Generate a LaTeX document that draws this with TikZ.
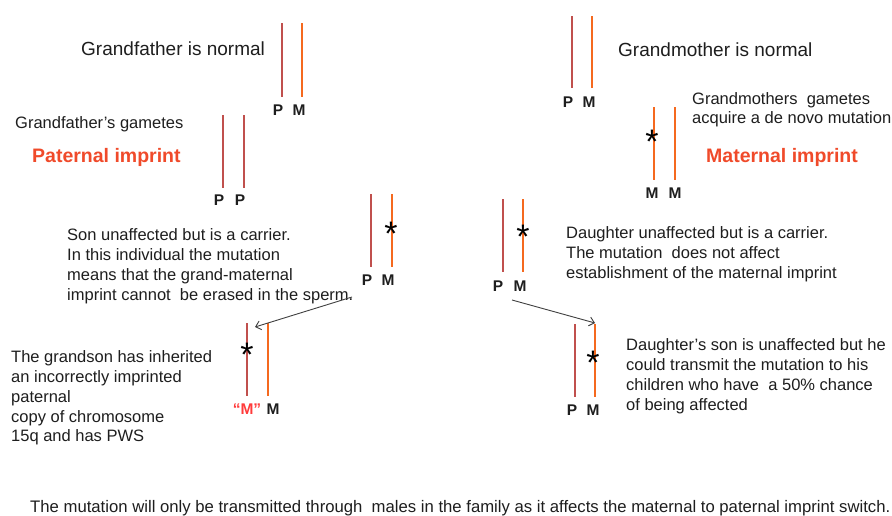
\documentclass[tikz,border=0pt]{standalone}
\usepackage{fontspec}
\setmainfont{Liberation Sans}
\usetikzlibrary{arrows.meta}
\definecolor{patline}{HTML}{C0504D}
\definecolor{matline}{HTML}{F5691F}
\definecolor{imprintred}{HTML}{F04A2A}
\definecolor{quotered}{HTML}{FF3B3B}
\definecolor{txt}{HTML}{1E1E1E}
\definecolor{arrowgray}{HTML}{404040}

\begin{document}
\begin{tikzpicture}[x=1pt,y=-1pt,
  patchr/.style={draw=patline,line width=2.8pt},
  matchr/.style={draw=matline,line width=2.8pt},
  lbl/.style={font=\fontsize{15.5}{15.5}\selectfont\bfseries, text=txt, inner sep=0, anchor=base},
  head/.style={font=\fontsize{19}{19}\selectfont, text=txt, inner sep=0, anchor=base west},
  body/.style={font=\fontsize{16.5}{19.7}\selectfont, text=txt, inner sep=0, anchor=north west, align=left},
  imprint/.style={font=\fontsize{19.5}{19.5}\selectfont\bfseries, text=imprintred, inner sep=0, anchor=base west},
  star/.style={font=\fontsize{34}{34}\selectfont, text=black, inner sep=0, anchor=center, yshift=-6pt},
  link/.style={draw=arrowgray, line width=0.9pt, -{Straight Barb[length=5pt,width=9pt]}},
]
\useasboundingbox[fill=white] (0,0) rectangle (892,515);

% ---------- paternal side ----------
% grandfather
\draw[patchr] (282,23) -- (282,97);
\draw[matchr] (302,23) -- (302,97);
\node[lbl] (gfP) at (278,115) {P};
\node[lbl] (gfM) at (299,115) {M};
\node[head] (gfText) at (81,55.7) {Grandfather is normal};

% grandfather's gametes
\draw[patchr] (223,115) -- (223,188);
\draw[patchr] (244,115) -- (244,188);
\node[lbl] (gaP1) at (219,205.5) {P};
\node[lbl] (gaP2) at (240,205.5) {P};
\node[head, font=\fontsize{16.5}{16.5}\selectfont] (gaText) at (15,128.5) {Grandfather’s gametes};
\node[imprint] (patImp) at (32,162.7) {Paternal imprint};

% son
\draw[patchr] (371,194) -- (371,267);
\draw[matchr] (392,194) -- (392,267);
\node[star] (sonStar) at (391,228) {*};
\node[lbl] (sonP) at (367,285.5) {P};
\node[lbl] (sonM) at (388,285.5) {M};
\node[body] (sonText) at (67,228.8) {Son unaffected but is a carrier.\\
In this individual the mutation\\
means that the grand-maternal\\
imprint cannot~ be erased in the sperm.};

% grandson
\draw[patchr] (247,323) -- (247,396);
\draw[matchr] (268,323) -- (268,396);
\node[star] (gsStar) at (247,349) {*};
\node[lbl, text=quotered] (gsP) at (247,414.5) {“M”};
\node[lbl] (gsM) at (273,414.5) {M};
\node[body] (gsText) at (11,350.8) {The grandson has inherited\\
an incorrectly imprinted\\
paternal\\
copy of chromosome\\
15q and has PWS};

\coordinate (sonOut) at (352,297);
\coordinate (gsIn) at (255,327);
\draw[link] (sonOut) -- (gsIn);

% ---------- maternal side ----------
% grandmother
\draw[patchr] (572,16) -- (572,88);
\draw[matchr] (592,16) -- (592,88);
\node[lbl] (gmP) at (568,107.5) {P};
\node[lbl] (gmM) at (589,107.5) {M};
\node[head] (gmText) at (618,56.7) {Grandmother is normal};

% grandmother's gametes
\draw[matchr] (654,107) -- (654,180);
\draw[matchr] (675,107) -- (675,180);
\node[star] (gmaStar) at (652,136) {*};
\node[lbl] (gmaM1) at (652,198.5) {M};
\node[lbl] (gmaM2) at (675,198.5) {M};
\node[body, font=\fontsize{16.5}{19}\selectfont] (gmaText) at (692,92.8) {Grandmothers~ gametes\\
acquire a de novo mutation};
\node[imprint] (matImp) at (706,162.7) {Maternal imprint};

% daughter
\draw[patchr] (503,199) -- (503,272);
\draw[matchr] (523,199) -- (523,272);
\node[star] (dStar) at (523,231) {*};
\node[lbl] (dP) at (498,291.5) {P};
\node[lbl] (dM) at (520,291.5) {M};
\node[body] (dText) at (566,226.8) {Daughter unaffected but is a carrier.\\
The mutation~ does not affect\\
establishment of the maternal imprint};

% daughter's son
\draw[patchr] (575,324) -- (575,397);
\draw[matchr] (595,324) -- (595,397);
\node[star] (dsStar) at (593,357) {*};
\node[lbl] (dsP) at (572,415.5) {P};
\node[lbl] (dsM) at (593,415.5) {M};
\node[body] (dsText) at (626,338.8) {Daughter’s son is unaffected but he\\
could transmit the mutation to his\\
children who have~ a 50\% chance\\
of being affected};

\coordinate (dOut) at (512,300);
\coordinate (dsIn) at (595,323);
\draw[link] (dOut) -- (dsIn);

% ---------- conclusion ----------
\node[head, font=\fontsize{16.7}{16.7}\selectfont] (summary) at (30,512) {The mutation will only be transmitted through~ males in the family as it affects the maternal to paternal imprint switch.};
\end{tikzpicture}
\end{document}
